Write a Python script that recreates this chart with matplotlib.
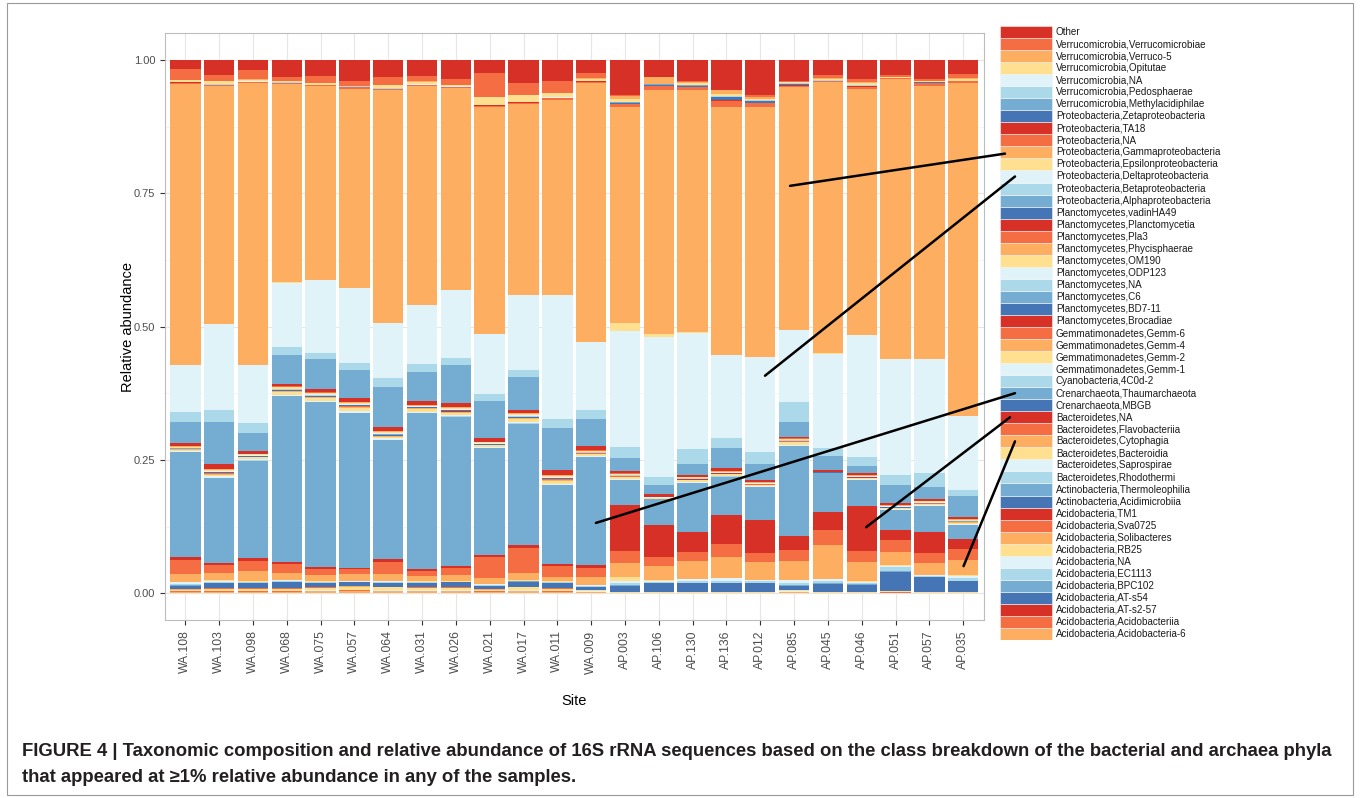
import matplotlib
matplotlib.use("Agg")
import matplotlib.pyplot as plt
import numpy as np
from matplotlib.patches import ConnectionPatch, Rectangle

plt.rcParams["font.family"] = ["Liberation Sans", "DejaVu Sans"]

# ---------------------------------------------------------------------------
# DATA — relative abundance per site, one list per taxon (stack order bottom→top)
# ---------------------------------------------------------------------------
sites = ["WA.108", "WA.103", "WA.098", "WA.068", "WA.075", "WA.057", "WA.064",
         "WA.031", "WA.026", "WA.021", "WA.017", "WA.011", "WA.009", "AP.003",
         "AP.106", "AP.130", "AP.136", "AP.012", "AP.085", "AP.045", "AP.046",
         "AP.051", "AP.057", "AP.035"]

taxa = [
    "Acidobacteria,Acidobacteria-6", "Acidobacteria,Acidobacteriia",
    "Acidobacteria,AT-s2-57", "Acidobacteria,AT-s54", "Acidobacteria,BPC102",
    "Acidobacteria,EC1113", "Acidobacteria,NA", "Acidobacteria,RB25",
    "Acidobacteria,Solibacteres", "Acidobacteria,Sva0725", "Acidobacteria,TM1",
    "Actinobacteria,Acidimicrobiia", "Actinobacteria,Thermoleophilia",
    "Bacteroidetes,Rhodothermi", "Bacteroidetes,Saprospirae",
    "Bacteroidetes,Bacteroidia", "Bacteroidetes,Cytophagia",
    "Bacteroidetes,Flavobacteriia", "Bacteroidetes,NA", "Crenarchaeota,MBGB",
    "Crenarchaeota,Thaumarchaeota", "Cyanobacteria,4C0d-2",
    "Gemmatimonadetes,Gemm-1", "Gemmatimonadetes,Gemm-2",
    "Gemmatimonadetes,Gemm-4", "Gemmatimonadetes,Gemm-6",
    "Planctomycetes,Brocadiae", "Planctomycetes,BD7-11", "Planctomycetes,C6",
    "Planctomycetes,NA", "Planctomycetes,ODP123", "Planctomycetes,OM190",
    "Planctomycetes,Phycisphaerae", "Planctomycetes,Pla3",
    "Planctomycetes,Planctomycetia", "Planctomycetes,vadinHA49",
    "Proteobacteria,Alphaproteobacteria", "Proteobacteria,Betaproteobacteria",
    "Proteobacteria,Deltaproteobacteria", "Proteobacteria,Epsilonproteobacteria",
    "Proteobacteria,Gammaproteobacteria", "Proteobacteria,NA",
    "Proteobacteria,TA18", "Proteobacteria,Zetaproteobacteria",
    "Verrucomicrobia,Methylacidiphilae", "Verrucomicrobia,Pedosphaerae",
    "Verrucomicrobia,NA", "Verrucomicrobia,Opitutae", "Verrucomicrobia,Verruco-5",
    "Verrucomicrobia,Verrucomicrobiae", "Other",
]

acido_6 = [0.003, 0.003, 0.003, 0.003, 0.004, 0.004, 0.004, 0.004, 0.004, 0.003, 0.004, 0.003,
           0.002, 0.001, 0.001, 0.001, 0.001, 0.001, 0.002, 0.001, 0.001, 0.0015, 0.001, 0.001]
acidobacteriia = [0.001, 0.001, 0.001, 0.001, 0.001, 0.0015, 0.001, 0.001, 0.001, 0.001, 0.001, 0.001,
                  0.001, 0.0, 0.0, 0.0005, 0.0005, 0.0005, 0.001, 0.0005, 0.0, 0.0005, 0.0, 0.0]
at_s2_57 = [0.0, 0.0, 0.0, 0.0, 0.0, 0.0005, 0.0, 0.0, 0.0, 0.0, 0.0, 0.0,
            0.0, 0.0, 0.0, 0.0, 0.0, 0.0, 0.0, 0.0, 0.0, 0.0, 0.0, 0.0]
at_s54 = [0.0, 0.0, 0.0, 0.0, 0.0, 0.0, 0.0, 0.0, 0.0, 0.0, 0.0, 0.0,
          0.0, 0.0, 0.0, 0.0, 0.0, 0.0, 0.0, 0.0, 0.0, 0.0, 0.0, 0.0]
bpc102 = [0.0, 0.0, 0.0, 0.0, 0.0, 0.0, 0.0, 0.0, 0.0, 0.0, 0.0, 0.0,
          0.0, 0.0, 0.0, 0.0, 0.0, 0.0, 0.0, 0.0, 0.0, 0.0, 0.0, 0.0]
ec1113 = [0.0, 0.0, 0.0, 0.0, 0.0, 0.0, 0.0, 0.0, 0.0, 0.0, 0.0, 0.0,
          0.0, 0.0, 0.0, 0.0, 0.0, 0.0, 0.0, 0.0, 0.0, 0.0, 0.0, 0.0]
acido_na = [0.0005, 0.0005, 0.0005, 0.0005, 0.0005, 0.0005, 0.0005, 0.0005, 0.0005, 0.0005, 0.0005, 0.0005,
            0.0005, 0.0, 0.0, 0.0, 0.0, 0.0, 0.0005, 0.0, 0.0, 0.0, 0.0, 0.0]
rb25 = [0.0025, 0.004, 0.004, 0.004, 0.0045, 0.006, 0.006, 0.0045, 0.0048, 0.0025, 0.006, 0.004,
        0.002, 0.001, 0.001, 0.0015, 0.0015, 0.0015, 0.002, 0.0015, 0.001, 0.002, 0.001, 0.001]
solibacteres = [0.0005, 0.0005, 0.0005, 0.0005, 0.0005, 0.0007, 0.0005, 0.0005, 0.0005, 0.0005, 0.0005, 0.0005,
                0.0005, 0.0, 0.0, 0.0, 0.0, 0.0, 0.0005, 0.0, 0.0, 0.0, 0.0, 0.0]
sva0725 = [0.0, 0.0004, 0.0004, 0.0004, 0.0005, 0.0005, 0.0005, 0.0005, 0.0005, 0.0, 0.0005, 0.0004,
           0.0, 0.0, 0.0, 0.0, 0.0, 0.0, 0.0, 0.0, 0.0, 0.0, 0.0, 0.0]
tm1 = [0.0, 0.0, 0.0, 0.0, 0.0, 0.0, 0.0, 0.0, 0.0, 0.0, 0.0, 0.0,
       0.0, 0.0, 0.0, 0.0, 0.0, 0.0, 0.0, 0.0, 0.0, 0.0, 0.0, 0.0]
acidimicrobiia = [0.0065, 0.0096, 0.0096, 0.0112, 0.008, 0.0069, 0.0065, 0.008, 0.0093, 0.0062, 0.0094, 0.0096,
                  0.005, 0.0117, 0.017, 0.016, 0.016, 0.016, 0.0077, 0.015, 0.014, 0.0366, 0.029, 0.021]
thermoleophilia = [0.001, 0.0005, 0.0005, 0.0005, 0.0005, 0.0005, 0.0005, 0.0005, 0.0002, 0.0005, 0.0003, 0.0005,
                   0.0005, 0.001, 0.0005, 0.001, 0.001, 0.001, 0.0013, 0.001, 0.001, 0.0014, 0.0005, 0.001]
rhodothermi = [0.003, 0.002, 0.001, 0.002, 0.001, 0.001, 0.0015, 0.001, 0.0006, 0.0015, 0.0007, 0.001,
               0.002, 0.004, 0.002, 0.003, 0.004, 0.0025, 0.005, 0.0035, 0.0025, 0.007, 0.001, 0.0045]
saprospirae = [0.0026, 0.0022, 0.0015, 0.0019, 0.0015, 0.001, 0.002, 0.0015, 0.0006, 0.0018, 0.0008, 0.0015,
               0.0021, 0.0038, 0.0022, 0.003, 0.004, 0.0025, 0.005, 0.0035, 0.0025, 0.003, 0.0015, 0.0045]
bacteroidia = [0.0005, 0.0005, 0.0005, 0.0005, 0.0005, 0.0005, 0.0005, 0.0005, 0.0005, 0.0005, 0.0005, 0.0005,
               0.0005, 0.0075, 0.0005, 0.0005, 0.0005, 0.0005, 0.0005, 0.0005, 0.0005, 0.0005, 0.0005, 0.0005]
cytophagia = [0.0145, 0.0145, 0.0185, 0.0132, 0.0118, 0.012, 0.0121, 0.010, 0.0118, 0.010, 0.0133, 0.0085,
              0.0149, 0.0275, 0.0268, 0.0345, 0.039, 0.0325, 0.0355, 0.0641, 0.0365, 0.0255, 0.023, 0.029]
flavobacteriia = [0.0269, 0.0143, 0.0196, 0.0163, 0.0107, 0.0094, 0.0231, 0.0085, 0.0132, 0.0395, 0.0469, 0.020,
                  0.017, 0.0225, 0.0177, 0.017, 0.025, 0.017, 0.020, 0.0282, 0.021, 0.022, 0.0185, 0.0205]
bacteroidetes_na = [0.005, 0.0045, 0.0051, 0.0037, 0.0038, 0.003, 0.0057, 0.0046, 0.0045, 0.0045, 0.0062, 0.004,
                    0.006, 0.0857, 0.0593, 0.0376, 0.0545, 0.0625, 0.0265, 0.0342, 0.0838, 0.019, 0.0396, 0.018]
mbgb = [0.0, 0.0, 0.0, 0.0003, 0.0003, 0.0, 0.0, 0.0003, 0.0, 0.0, 0.0, 0.0,
        0.0, 0.0, 0.0, 0.0, 0.0, 0.0, 0.0, 0.0, 0.0, 0.0, 0.0, 0.0]
thaumarchaeota = [0.197, 0.1588, 0.1833, 0.3103, 0.3092, 0.290, 0.2232, 0.2924, 0.279, 0.200, 0.2274, 0.1476,
                  0.202, 0.0469, 0.048, 0.0904, 0.072, 0.0615, 0.1689, 0.072, 0.0488, 0.037, 0.0482, 0.027]
cyano_4c0d2 = [0.0005, 0.0008, 0.0005, 0.0008, 0.0008, 0.0008, 0.0008, 0.0005, 0.0008, 0.0005, 0.0008, 0.0008,
               0.0005, 0.0005, 0.0002, 0.0005, 0.0004, 0.0004, 0.0005, 0.0001, 0.0004, 0.0004, 0.0004, 0.0005]
gemm_1 = [0.0015, 0.0024, 0.0015, 0.0024, 0.0024, 0.0024, 0.0024, 0.0015, 0.0024, 0.0015, 0.0024, 0.0024,
          0.0015, 0.0015, 0.0006, 0.0015, 0.0012, 0.0012, 0.0015, 0.0004, 0.0012, 0.0012, 0.0012, 0.0015]
gemm_2 = [0.0025, 0.0031, 0.004, 0.0046, 0.0046, 0.0072, 0.0025, 0.006, 0.0046, 0.0035, 0.0056, 0.0056,
          0.003, 0.0034, 0.0015, 0.004, 0.003, 0.0025, 0.0051, 0.0006, 0.0018, 0.002, 0.0022, 0.002]
gemm_4 = [0.001, 0.0016, 0.001, 0.0016, 0.0016, 0.0016, 0.0016, 0.001, 0.0016, 0.001, 0.0016, 0.0016,
          0.001, 0.001, 0.0004, 0.001, 0.0008, 0.0008, 0.001, 0.0003, 0.0008, 0.0008, 0.0008, 0.001]
gemm_6 = [0.0003, 0.0005, 0.0003, 0.0005, 0.0005, 0.0005, 0.0005, 0.0003, 0.0005, 0.0003, 0.0005, 0.0005,
          0.0003, 0.0003, 0.0001, 0.0003, 0.0002, 0.0002, 0.0003, 0.0001, 0.0002, 0.0002, 0.0002, 0.0003]
brocadiae = [0.0002, 0.0003, 0.0002, 0.0003, 0.0003, 0.0003, 0.0003, 0.0002, 0.0003, 0.0002, 0.0003, 0.0003,
             0.0002, 0.0002, 0.0001, 0.0002, 0.0002, 0.0002, 0.0002, 0.0, 0.0002, 0.0002, 0.0002, 0.0002]
bd7_11 = [0.001, 0.0016, 0.001, 0.0016, 0.0016, 0.0016, 0.0016, 0.001, 0.0016, 0.001, 0.0016, 0.0016,
          0.001, 0.001, 0.0004, 0.001, 0.0008, 0.0008, 0.001, 0.0003, 0.0008, 0.0008, 0.0008, 0.001]
c6 = [0.0003, 0.0005, 0.0003, 0.0005, 0.0005, 0.0005, 0.0005, 0.0003, 0.0005, 0.0003, 0.0005, 0.0005,
      0.0003, 0.0003, 0.0001, 0.0003, 0.0002, 0.0002, 0.0003, 0.0001, 0.0002, 0.0002, 0.0002, 0.0003]
plancto_na = [0.0005, 0.0008, 0.0005, 0.0008, 0.0008, 0.0008, 0.0008, 0.0005, 0.0008, 0.0005, 0.0008, 0.0008,
              0.0005, 0.0005, 0.0002, 0.0005, 0.0004, 0.0004, 0.0005, 0.0001, 0.0004, 0.0004, 0.0004, 0.0005]
odp123 = [0.001, 0.0016, 0.001, 0.0016, 0.0016, 0.0016, 0.0016, 0.001, 0.0016, 0.001, 0.0016, 0.0016,
          0.001, 0.001, 0.0004, 0.001, 0.0008, 0.0008, 0.001, 0.0003, 0.0008, 0.0008, 0.0008, 0.001]
om190 = [0.0015, 0.0024, 0.0015, 0.0024, 0.0024, 0.0024, 0.0024, 0.0015, 0.0024, 0.0015, 0.0024, 0.0024,
         0.0015, 0.0015, 0.0006, 0.0015, 0.0012, 0.0012, 0.0015, 0.0004, 0.0012, 0.0012, 0.0012, 0.0015]
phycisphaerae = [0.0007, 0.0011, 0.0007, 0.0011, 0.0011, 0.0011, 0.0011, 0.0007, 0.0011, 0.0007, 0.0011, 0.0011,
                 0.0007, 0.0007, 0.0003, 0.0007, 0.0005, 0.0005, 0.0007, 0.0002, 0.0005, 0.0005, 0.0005, 0.0007]
pla3 = [0.0005, 0.0008, 0.0005, 0.0008, 0.0008, 0.0008, 0.0008, 0.0005, 0.0008, 0.0005, 0.0008, 0.0008,
        0.0005, 0.0005, 0.0001, 0.0005, 0.0003, 0.0003, 0.0005, 0.0001, 0.0003, 0.0003, 0.0003, 0.0005]
planctomycetia = [0.005, 0.0088, 0.0056, 0.004, 0.0057, 0.0074, 0.0075, 0.0065, 0.007, 0.0075, 0.006, 0.0081,
                  0.0083, 0.005, 0.005, 0.003, 0.0055, 0.0041, 0.0035, 0.0033, 0.0036, 0.004, 0.004, 0.0036]
vadinha49 = [0.0, 0.0, 0.0, 0.0, 0.0, 0.0, 0.0, 0.0, 0.0, 0.0, 0.0, 0.0,
             0.0, 0.0, 0.0, 0.0, 0.0, 0.0, 0.0, 0.0, 0.0, 0.0, 0.0, 0.0]
alpha = [0.040, 0.0784, 0.0334, 0.055, 0.0563, 0.052, 0.0757, 0.0545, 0.071, 0.069, 0.062, 0.0793,
         0.0501, 0.023, 0.017, 0.0206, 0.0375, 0.030, 0.028, 0.0263, 0.014, 0.034, 0.023, 0.040]
beta = [0.019, 0.0235, 0.018, 0.014, 0.011, 0.0137, 0.0168, 0.016, 0.014, 0.013, 0.013, 0.017,
        0.0176, 0.022, 0.016, 0.0274, 0.020, 0.0231, 0.0375, 0.0144, 0.017, 0.019, 0.026, 0.0114]
delta = [0.0875, 0.1596, 0.1095, 0.1213, 0.1375, 0.1398, 0.1016, 0.1105, 0.1265, 0.1115, 0.1402, 0.2315,
         0.1275, 0.217, 0.262, 0.218, 0.1545, 0.1775, 0.134, 0.1775, 0.2281, 0.2175, 0.2135, 0.1378]
epsilon = [0.0005, 0.0005, 0.0005, 0.0005, 0.0005, 0.0005, 0.0005, 0.0005, 0.0005, 0.0005, 0.0005, 0.0005,
           0.0005, 0.0146, 0.005, 0.0016, 0.0005, 0.0008, 0.0005, 0.0005, 0.0005, 0.0005, 0.0005, 0.0008]
gamma = [0.527, 0.4464, 0.528, 0.3722, 0.362, 0.373, 0.4374, 0.410, 0.378, 0.426, 0.3583, 0.366,
         0.484, 0.4054, 0.4585, 0.4534, 0.464, 0.467, 0.455, 0.508, 0.4614, 0.524, 0.512, 0.6244]
proteo_na = [0.002, 0.002, 0.0015, 0.0015, 0.002, 0.003, 0.002, 0.0015, 0.002, 0.002, 0.002, 0.003,
             0.003, 0.005, 0.007, 0.006, 0.013, 0.008, 0.003, 0.002, 0.004, 0.002, 0.004, 0.003]
ta18 = [0.001, 0.001, 0.0005, 0.0005, 0.0005, 0.001, 0.0005, 0.0005, 0.0005, 0.001, 0.001, 0.001,
        0.001, 0.001, 0.0005, 0.001, 0.001, 0.001, 0.001, 0.0, 0.0005, 0.0005, 0.0005, 0.0005]
zeta = [0.0, 0.0, 0.0, 0.0, 0.0, 0.0, 0.0, 0.0, 0.0, 0.0, 0.0, 0.0,
        0.0, 0.002, 0.002, 0.002, 0.005, 0.003, 0.002, 0.001, 0.001, 0.0, 0.002, 0.0005]
methylacidiphilae = [0.0, 0.0, 0.0, 0.0, 0.0, 0.0, 0.0, 0.0, 0.0, 0.0, 0.0, 0.0,
                     0.0, 0.001, 0.001, 0.0005, 0.001, 0.001, 0.0005, 0.0005, 0.0005, 0.0, 0.0005, 0.0]
pedosphaerae = [0.0005, 0.0005, 0.0005, 0.0005, 0.0005, 0.0005, 0.0005, 0.0005, 0.0005, 0.0005, 0.0005, 0.0005,
                0.0005, 0.0005, 0.0, 0.0005, 0.001, 0.0005, 0.0005, 0.0005, 0.0005, 0.0005, 0.0005, 0.0]
verruco_na = [0.0005, 0.0005, 0.0005, 0.0005, 0.0005, 0.0005, 0.0005, 0.0005, 0.0005, 0.0005, 0.0005, 0.0005,
              0.0005, 0.0005, 0.0, 0.0, 0.001, 0.0005, 0.0, 0.0, 0.0005, 0.0, 0.0, 0.0]
opitutae = [0.003, 0.005, 0.003, 0.0025, 0.003, 0.0, 0.005, 0.005, 0.002, 0.014, 0.012, 0.008,
            0.004, 0.004, 0.0005, 0.003, 0.004, 0.002, 0.002, 0.002, 0.004, 0.001, 0.001, 0.004]
verruco_5 = [0.0005, 0.0005, 0.0005, 0.0005, 0.0005, 0.0, 0.0005, 0.0005, 0.0005, 0.001, 0.001, 0.001,
             0.0005, 0.006, 0.012, 0.002, 0.006, 0.004, 0.001, 0.003, 0.002, 0.001, 0.001, 0.001]
verrucomicrobiae = [0.0215, 0.0115, 0.018, 0.0065, 0.012, 0.010, 0.016, 0.0095, 0.011, 0.044, 0.021, 0.021,
                    0.0095, 0.002, 0.0005, 0.002, 0.001, 0.004, 0.002, 0.005, 0.005, 0.003, 0.0025, 0.008]
other = [0.016, 0.028, 0.0185, 0.0325, 0.031, 0.039, 0.031, 0.031, 0.036, 0.025, 0.044, 0.040,
         0.025, 0.066, 0.032, 0.040, 0.056, 0.065, 0.039, 0.028, 0.0355, 0.028, 0.036, 0.026]

abundance = [
    acido_6, acidobacteriia, at_s2_57, at_s54, bpc102, ec1113, acido_na, rb25,
    solibacteres, sva0725, tm1, acidimicrobiia, thermoleophilia, rhodothermi,
    saprospirae, bacteroidia, cytophagia, flavobacteriia, bacteroidetes_na, mbgb,
    thaumarchaeota, cyano_4c0d2, gemm_1, gemm_2, gemm_4, gemm_6, brocadiae,
    bd7_11, c6, plancto_na, odp123, om190, phycisphaerae, pla3, planctomycetia,
    vadinha49, alpha, beta, delta, epsilon, gamma, proteo_na, ta18, zeta,
    methylacidiphilae, pedosphaerae, verruco_na, opitutae, verruco_5,
    verrucomicrobiae, other,
]

# RdYlBu-style cycle, counted from the top of the stack ("Other" is red)
palette = ["#D73027", "#F46D43", "#FDAE61", "#FEE090",
           "#E0F3F8", "#ABD9E9", "#74ADD1", "#4575B4"]
n_taxa = len(taxa)
colors = [palette[(n_taxa - 1 - j) % len(palette)] for j in range(n_taxa)]

# ---------------------------------------------------------------------------
# FIGURE
# ---------------------------------------------------------------------------
W, H = 1360, 798
fig = plt.figure(figsize=(W / 100, H / 100), dpi=100)
fig.patch.set_facecolor("white")


def px_box(x0, y0, x1, y1):
    """Figure-fraction rect from pixel corners (top-left origin)."""
    return [x0 / W, 1 - y1 / H, (x1 - x0) / W, (y1 - y0) / H]


ax = fig.add_axes(px_box(165, 33.3, 983.5, 620))
x = np.arange(len(sites))

bottom = np.zeros(len(sites))
for vals, col in zip(abundance, colors):
    vals = np.asarray(vals)
    ax.bar(x, vals, bottom=bottom, width=0.9, color=col, linewidth=0, zorder=2)
    bottom += vals

ax.set_xlim(-0.6, len(sites) - 0.4)
ax.set_ylim(-0.05, 1.05)
ax.set_yticks([0, 0.25, 0.5, 0.75, 1.0])
ax.set_yticklabels(["0.00", "0.25", "0.50", "0.75", "1.00"])
ax.set_yticks([0.125, 0.375, 0.625, 0.875], minor=True)
ax.set_xticks(x)
ax.set_xticklabels(sites, rotation=90)
ax.grid(True, which="major", color="#e6e6e6", linewidth=0.8, zorder=0)
ax.grid(True, which="minor", axis="y", color="#f2f2f2", linewidth=0.5, zorder=0)
ax.set_axisbelow(True)
ax.tick_params(axis="both", which="major", length=3.5, width=0.8, color="#333333",
               labelcolor="#4d4d4d", labelsize=8)
ax.tick_params(axis="x", which="major", labelsize=8.7, pad=4)
ax.tick_params(axis="y", which="minor", length=0)
for s in ax.spines.values():
    s.set_color("#bdbdbd")
    s.set_linewidth(0.8)

ax.set_xlabel("Site", fontsize=10.5, labelpad=15)
ax.set_ylabel("Relative abundance", fontsize=10.5, labelpad=-1)

# ---- legend column: one key per taxon, "Other" at the top ----
leg = fig.add_axes(px_box(1000, 26, 1360, 640))
leg.set_xlim(0, 360)
leg.set_ylim(n_taxa, 0)
leg.axis("off")
for j, (name, col) in enumerate(zip(taxa, colors)):
    row = n_taxa - 1 - j
    leg.barh(row + 0.5, 52, height=1.0, left=0, color=col,
             edgecolor="#f4f4f4", linewidth=0.4)
    leg.text(56, row + 0.5, name, va="center", ha="left", fontsize=7.1, color="#1a1a1a")

# ---- pointer lines from highlighted taxa to their stacks ----
pointers = [
    ((17.88, 0.764), (5, 10.6)),    # Gammaproteobacteria
    ((17.14, 0.408), (15, 12.5)),   # Deltaproteobacteria
    ((12.14, 0.132), (15, 30.5)),   # Thaumarchaeota
    ((20.13, 0.124), (10, 32.5)),   # Bacteroidetes,NA
    ((23.01, 0.051), (15, 34.5)),   # Cytophagia
]
for a, b in pointers:
    con = ConnectionPatch(xyA=a, coordsA=ax.transData, xyB=b, coordsB=leg.transData,
                          color="black", linewidth=1.8)
    fig.add_artist(con)

# ---- caption ----
fig.text(22 / W, 1 - 752 / H,
         "FIGURE 4 | Taxonomic composition and relative abundance of 16S rRNA sequences "
         "based on the class breakdown of the bacterial and archaea phyla",
         fontsize=13.3, fontweight="bold", color="#231f20", va="center", ha="left")
fig.text(22 / W, 1 - 778 / H,
         "that appeared at \u22651% relative abundance in any of the samples.",
         fontsize=13.3, fontweight="bold", color="#231f20", va="center", ha="left")

fig.add_artist(Rectangle((7 / W, 3 / H), 1346 / W, 792 / H, transform=fig.transFigure,
                         fill=False, edgecolor="#9a9a9a", linewidth=0.8))

fig.savefig("out.png", dpi=100)
